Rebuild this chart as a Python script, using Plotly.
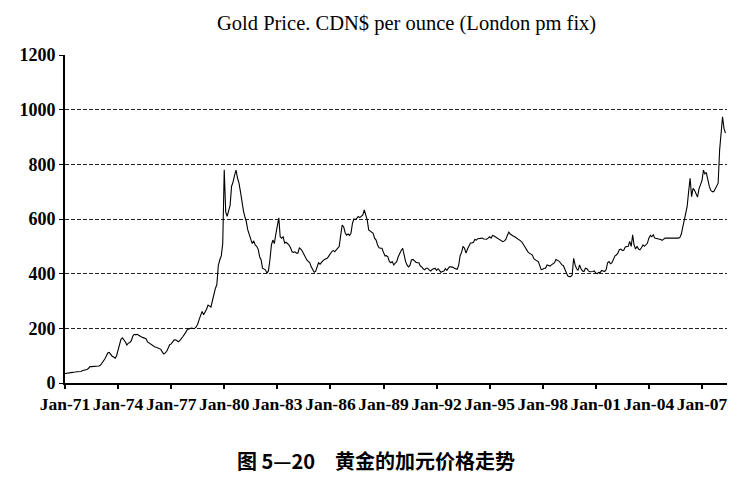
import pandas as pd
import plotly.graph_objects as go

# Gold price, CDN$ per ounce (London pm fix), monthly
y1971 = [35, 35, 36, 37, 38, 38, 39, 40, 41, 41, 41, 42]
y1972 = [46, 48, 48, 49, 54, 60, 60, 60, 60, 61, 61, 62]
y1973 = [65, 72, 82, 88, 98, 110, 112, 104, 98, 95, 91, 100]
y1974 = [125, 145, 160, 165, 158, 150, 139, 146, 148, 155, 172, 178]
y1975 = [176, 178, 175, 170, 168, 166, 165, 162, 150, 146, 142, 138]
y1976 = [134, 132, 131, 128, 125, 123, 114, 106, 110, 116, 128, 140]
y1977 = [143, 150, 157, 158, 155, 151, 156, 162, 170, 178, 186, 195]
y1978 = [198, 200, 201, 199, 200, 205, 215, 232, 248, 262, 250, 258]
y1979 = [270, 285, 280, 278, 300, 330, 345, 360, 430, 450, 465, 510]
y1980 = [780, 625, 610, 630, 650, 720, 735, 760, 779, 750, 731, 700]
y1981 = [660, 630, 609, 590, 560, 540, 523, 510, 520, 505, 500, 490]
y1982 = [462, 450, 420, 418, 414, 402, 410, 450, 505, 523, 510, 545]
y1983 = [580, 604, 535, 530, 535, 512, 515, 510, 505, 495, 480, 478]
y1984 = [480, 475, 475, 494, 490, 482, 470, 460, 450, 445, 440, 425]
y1985 = [415, 405, 408, 425, 440, 435, 444, 448, 452, 455, 457, 465]
y1986 = [475, 481, 485, 480, 487, 495, 499, 540, 578, 572, 550, 541]
y1987 = [545, 540, 548, 584, 600, 598, 605, 609, 605, 610, 615, 633]
y1988 = [615, 596, 560, 555, 550, 548, 530, 523, 505, 495, 493, 493]
y1989 = [478, 465, 466, 462, 445, 440, 444, 432, 439, 444, 462, 475]
y1990 = [485, 493, 468, 445, 432, 425, 430, 450, 452, 445, 442, 440]
y1991 = [440, 428, 425, 418, 414, 420, 420, 414, 410, 415, 418, 420]
y1992 = [412, 418, 412, 405, 408, 410, 418, 412, 420, 426, 424, 424]
y1993 = [420, 418, 416, 430, 465, 478, 500, 493, 475, 490, 500, 512]
y1994 = [512, 515, 525, 523, 528, 528, 529, 530, 527, 526, 526, 530]
y1995 = [535, 530, 540, 538, 535, 530, 528, 525, 520, 517, 520, 525]
y1996 = [540, 552, 545, 540, 538, 535, 532, 529, 525, 520, 515, 505]
y1997 = [499, 485, 480, 475, 472, 468, 455, 450, 447, 444, 430, 415]
y1998 = [416, 420, 420, 432, 430, 428, 432, 435, 440, 452, 450, 446]
y1999 = [440, 432, 430, 418, 406, 392, 389, 389, 395, 456, 432, 418]
y2000 = [412, 432, 418, 410, 408, 420, 418, 410, 407, 407, 408, 410]
y2001 = [402, 400, 405, 404, 412, 410, 408, 414, 440, 444, 436, 440]
y2002 = [450, 465, 468, 475, 488, 490, 485, 486, 498, 499, 500, 518]
y2003 = [500, 542, 505, 490, 500, 490, 487, 495, 505, 500, 508, 511]
y2004 = [530, 540, 535, 542, 530, 529, 528, 527, 525, 522, 528, 530]
y2005 = [530, 530, 529, 528, 530, 529, 528, 529, 530, 532, 545, 570]
y2006 = [595, 610, 645, 700, 749, 682, 712, 705, 690, 680, 710, 725]
y2007 = [740, 779, 765, 770, 740, 720, 705, 700, 700, 712, 725, 731]
y2008 = [853, 905, 974, 930, 914]

years = [y1971, y1972, y1973, y1974, y1975, y1976, y1977, y1978, y1979, y1980,
         y1981, y1982, y1983, y1984, y1985, y1986, y1987, y1988, y1989, y1990,
         y1991, y1992, y1993, y1994, y1995, y1996, y1997, y1998, y1999, y2000,
         y2001, y2002, y2003, y2004, y2005, y2006, y2007, y2008]
prices = [v for yr in years for v in yr]
dates = pd.date_range("1971-01-01", periods=len(prices), freq="MS")

tick_dates = pd.date_range("1971-01-01", "2007-01-01", freq="36MS")
tick_labels = ["Jan-71", "Jan-74", "Jan-77", "Jan-80", "Jan-83", "Jan-86", "Jan-89",
               "Jan-92", "Jan-95", "Jan-98", "Jan-01", "Jan-04", "Jan-07"]
y_ticks = [0, 200, 400, 600, 800, 1000, 1200]

serif = "Liberation Serif, Times New Roman, serif"

W, H = 751, 477
L, R, T, B = 65, 24, 55, 94
plot_w = W - L - R

fig = go.Figure()
fig.add_trace(go.Scatter(
    x=dates, y=prices, mode="lines",
    line=dict(color="black", width=1.1),
    showlegend=False,
))

fig.update_layout(
    width=W, height=H,
    margin=dict(l=L, r=R, t=T, b=B),
    paper_bgcolor="white", plot_bgcolor="white",
    font=dict(family=serif, color="black", size=17),
    xaxis=dict(
        range=["1971-01-01", "2008-06-01"],
        tickvals=tick_dates, ticktext=["<b>%s</b>" % t for t in tick_labels],
        ticks="outside", ticklen=4, tickwidth=2, tickcolor="black",
        showline=True, linecolor="black", linewidth=2,
        showgrid=False, zeroline=False,
        tickfont=dict(family=serif, size=17.5),
    ),
    yaxis=dict(
        range=[0, 1200],
        tickvals=y_ticks, ticktext=["<b>%d</b>" % v for v in y_ticks],
        ticks="outside", ticklen=4, tickwidth=1, tickcolor="black",
        showline=True, linecolor="black", linewidth=2,
        showgrid=True, gridcolor="#222", gridwidth=1, griddash="4px,2px",
        zeroline=False,
        tickfont=dict(family=serif, size=18),
    ),
    annotations=[
        dict(text="Gold Price. CDN$ per ounce (London pm fix)",
             xref="paper", yref="paper", x=(406 - L) / plot_w, y=1, yshift=32,
             xanchor="center", yanchor="middle", showarrow=False,
             font=dict(family=serif, size=20.5)),
        dict(text="<b>图 5—20　黄金的加元价格走势</b>",
             xref="paper", yref="paper", x=(376 - L) / plot_w, y=0, yshift=-77,
             xanchor="center", yanchor="middle", showarrow=False,
             font=dict(family="Noto Sans CJK SC", size=20)),
    ],
)

# drop the default page margin so the 751x477 figure fills the window exactly
fig.write_html("out.html", config={"displayModeBar": False},
               post_script="document.body.style.margin = '0';")
